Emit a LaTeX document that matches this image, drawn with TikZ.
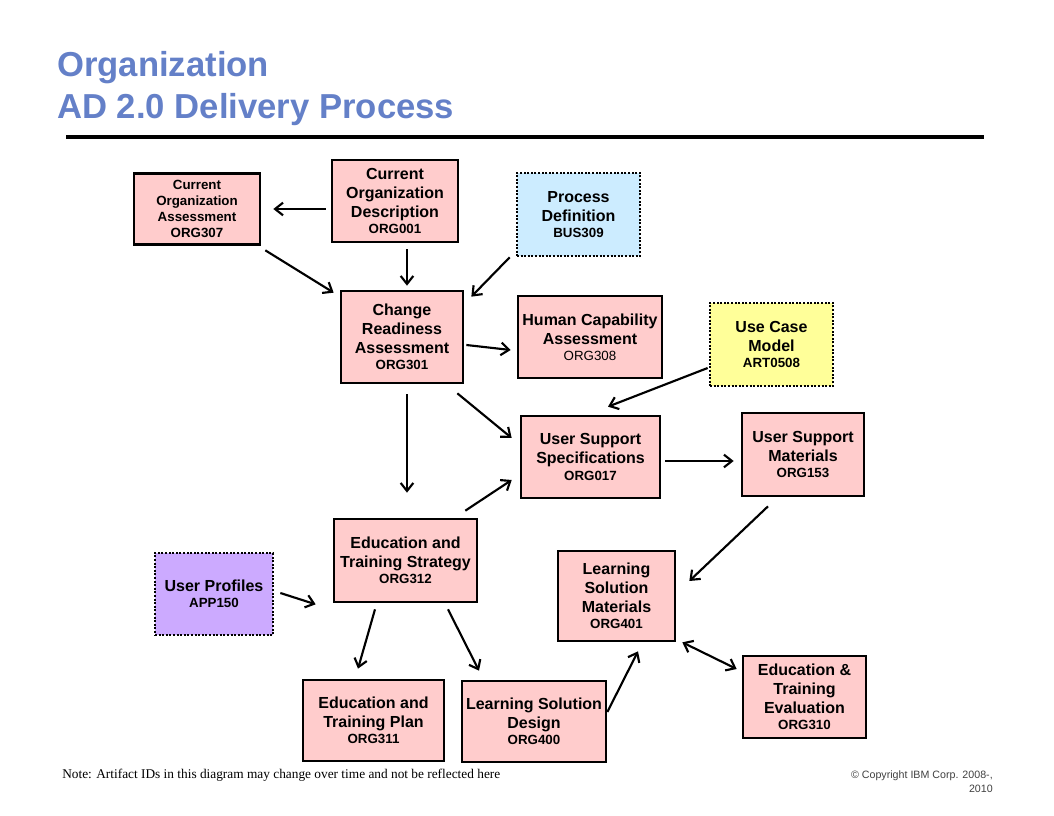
\documentclass[tikz,border=0pt]{standalone}
\usepackage{fontspec}
\setmainfont{Liberation Serif}
\setsansfont{Liberation Sans}
\usetikzlibrary{arrows.meta,calc}
\definecolor{pinkbox}{RGB}{255,204,204}
\definecolor{bluebox}{RGB}{204,236,255}
\definecolor{yellowbox}{RGB}{255,255,153}
\definecolor{lilacbox}{RGB}{204,170,255}
\definecolor{titleblue}{RGB}{100,128,200}
\newcommand{\idf}{\fontsize{10}{12}\selectfont}

\begin{document}
\begin{tikzpicture}[x=0.75pt,y=-0.75pt,
  artifact/.style={draw=black,line width=2pt,fill=pinkbox,align=center,inner sep=0pt,
    font=\sffamily\bfseries\fontsize{12}{14.25}\selectfont},
  input/.style={artifact,dash pattern=on 1.5pt off 1.2pt},
  barb/.tip={Straight Barb[length=6pt,width=9.5pt]},
  flow/.style={line width=1.6pt,-barb},
  title/.style={anchor=base west,inner sep=0pt,text=titleblue,
    font=\sffamily\bfseries\fontsize{26}{30}\selectfont}]
\useasboundingbox (0,0) rectangle (1054,816);
\node[title] (title1) at (57,77)  {Organization};
\node[title] (title2) at (57,119) {AD 2.0 Delivery Process};
\draw[line width=3pt] (66,137) -- (984,137);
% artifacts
\node[artifact,minimum width=94.5pt,minimum height=53.25pt,font=\sffamily\bfseries\fontsize{10}{12}\selectfont]
  (org307) at (197,209) {Current\\Organization\\Assessment\\ORG307};
\node[artifact,minimum width=94.5pt,minimum height=61.5pt]
  (org001) at (395,201) {Current\\Organization\\Description\\[-2pt]\idf ORG001};
\node[input,fill=bluebox,minimum width=92.25pt,minimum height=62.25pt]
  (bus309) at (578.5,214.5) {Process\\Definition\\[-2pt]\idf BUS309};
\node[artifact,minimum width=91.5pt,minimum height=69pt]
  (org301) at (402,337) {Change\\Readiness\\Assessment\\[-2pt]\idf ORG301};
\node[artifact,minimum width=108pt,minimum height=61.5pt]
  (org308) at (590,337) {Human Capability\\Assessment\\[-2pt]\idf\mdseries ORG308};
\node[input,fill=yellowbox,minimum width=92.25pt,minimum height=62.25pt]
  (art0508) at (771.5,344.5) {Use Case\\Model\\[-2pt]\idf ART0508};
\node[artifact,minimum width=104.25pt,minimum height=61.5pt]
  (org017) at (590.5,457) {User Support\\Specifications\\[-2pt]\idf ORG017};
\node[artifact,minimum width=91.5pt,minimum height=62.25pt]
  (org153) at (803,454.5) {User Support\\Materials\\[-2pt]\idf ORG153};
\node[artifact,minimum width=107.25pt,minimum height=62.25pt]
  (org312) at (405.5,560.5) {Education and\\Training Strategy\\[-2pt]\idf ORG312};
\node[input,fill=lilacbox,minimum width=88.5pt,minimum height=61.5pt]
  (app150) at (214,594) {User Profiles\\[-2pt]\idf APP150};
\node[artifact,minimum width=87.75pt,minimum height=67.5pt]
  (org401) at (616.5,596) {Learning\\Solution\\Materials\\[-2pt]\idf ORG401};
\node[artifact,minimum width=92.25pt,minimum height=61.5pt]
  (org310) at (804.5,697) {Education \&\\Training\\Evaluation\\[-2pt]\idf ORG310};
\node[artifact,minimum width=105.75pt,minimum height=60.75pt]
  (org311) at (373.5,720.5) {Education and\\Training Plan\\[-2pt]\idf ORG311};
\node[artifact,minimum width=108pt,minimum height=60.75pt]
  (org400) at (534,721.5) {Learning Solution\\Design\\[-2pt]\idf ORG400};
% flows
\draw[flow] ($(org001.west)+(-5,8)$) -- ($(org307.east)+(12,0)$);
\draw[flow] ($(org001.south)+(12,6)$) -- ($(org301.north)+(5,-4)$);
\draw[flow] ($(org307.south east)+(4,4.5)$) -- ($(org301.north west)+(-6,3)$);
\draw[flow] ($(bus309.south west)+(-6,0)$) -- ($(org301.north east)+(7,7)$);
\draw[flow] ($(org301.east)+(2,8)$) -- ($(org308.west)+(-6,13)$);
\draw[flow] ($(org301.south)+(5,10)$) -- ($(org312.north)+(1.5,-25)$);
\draw[flow] ($(org301.south east)+(-7,9)$) -- ($(org017.west)+(-8,-19)$);
\draw[flow] ($(art0508.west)+(-1,23.5)$) -- ($(org017.north)+(17.5,-8)$);
\draw[flow] ($(org312.north east)+(-13,-7)$) -- ($(org017.west)+(-8,23)$);
\draw[flow] ($(org017.east)+(4,4)$) -- ($(org153.west)+(-7,6.5)$);
\draw[flow] ($(org153.south)+(-35,9)$) -- ($(org401.east)+(13,-15)$);
\draw[flow] ($(app150.east)+(6,-1)$) -- ($(org312.south west)+(-17,1)$);
\draw[flow] ($(org312.south)+(-30.5,6)$) -- ($(org311.north)+(-15.5,-10)$);
\draw[flow] ($(org312.south)+(42.5,6)$) -- ($(org400.north)+(-55,-9)$);
\draw[flow] ($(org400.east)+(0,-9.5)$) -- ($(org401.south)+(21.5,9)$);
\draw[flow,barb-barb] ($(org401.south east)+(6,0)$) -- ($(org310.west)+(-5,-28)$);
% footer
\node[anchor=base west,inner sep=0pt,font=\fontsize{10}{12}\selectfont]
  (note) at (62,778) {Note: Artifact IDs in this diagram may change over time and not be reflected here};
\node[anchor=north east,inner sep=0pt,align=right,text=black!75,font=\sffamily\fontsize{8}{10.5}\selectfont]
  (copyright) at (993,771) {\textcopyright{} Copyright IBM Corp. 2008-,\\2010};
\end{tikzpicture}
\end{document}
